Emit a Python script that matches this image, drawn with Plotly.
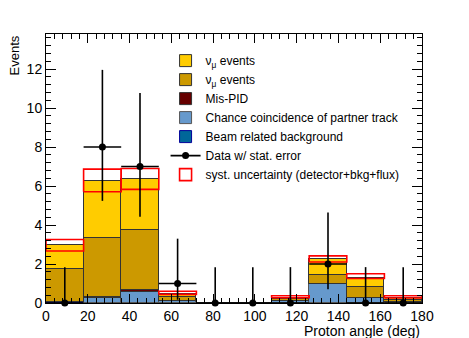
import plotly.graph_objects as go

# binning (proton angle, deg)
bin_edges = [0, 18, 36, 54, 72, 90, 108, 126, 144, 162, 180]

# stacked MC components, per bin
beam_bkg = [0.03, 0, 0, 0, 0, 0, 0, 0, 0, 0]
chance_coinc = [0.0, 0.25, 0.58, 0.12, 0, 0, 0.12, 0.97, 0.24, 0.06]
mis_pid = [0.0, 0.05, 0.08, 0, 0, 0, 0, 0, 0, 0]
numubar_evts = [1.69, 3.02, 3.06, 0.20, 0, 0, 0.08, 0.49, 0.56, 0.08]
numu_evts = [1.24, 2.96, 2.64, 0.14, 0, 0, 0.07, 0.79, 0.50, 0.10]

# systematic band (low / high edge of the box)
syst_lo = [2.67, 5.71, 5.83, 0.44, 0, 0, 0.27, 2.10, 1.26, 0.26]
syst_hi = [3.26, 6.87, 6.90, 0.60, 0, 0, 0.37, 2.42, 1.50, 0.37]

# data with (Poisson) stat errors
data_counts = [0, 8, 7, 1, 0, 0, 0, 2, 0, 0]
data_err_hi = [1.84, 3.96, 3.77, 2.30, 1.84, 1.84, 1.84, 2.64, 1.84, 1.84]
data_err_lo = [0, 2.76, 2.58, 0.83, 0, 0, 0, 1.29, 0, 0]

centers = [(a + b) / 2 for a, b in zip(bin_edges[:-1], bin_edges[1:])]
widths = [b - a for a, b in zip(bin_edges[:-1], bin_edges[1:])]
half_w = [w / 2 for w in widths]

FONT = "Liberation Sans, Arial, sans-serif"

fig = go.Figure()

# stack, bottom to top
stack = [
    ("Beam related background", beam_bkg, "#006699", "#000099", 5),
    ("Chance coincidence of partner track", chance_coinc, "#6699cc", "#555555", 4),
    ("Mis-PID", mis_pid, "#660000", "#333333", 3),
    ("ν<sub>μ</sub> events", numubar_evts, "#cc9900", "#333333", 2),
    ("ν<sub>μ</sub> events", numu_evts, "#ffcc00", "#333333", 1),
]
for name, vals, col, lcol, rank in stack:
    fig.add_trace(go.Bar(
        x=centers, y=vals, width=widths, name=name,
        marker=dict(color=col, line=dict(color=lcol, width=1)),
        legendrank=rank,
    ))

# syst uncertainty boxes
sx, sy = [], []
for i in range(len(centers)):
    if syst_hi[i] <= 0:
        continue
    l, r = bin_edges[i], bin_edges[i + 1]
    sx += [l, r, r, l, l, None]
    sy += [syst_lo[i], syst_lo[i], syst_hi[i], syst_hi[i], syst_lo[i], None]
fig.add_trace(go.Scatter(
    x=sx, y=sy, mode="lines",
    line=dict(color="#ff0000", width=1.6),
    showlegend=False, hoverinfo="skip",
))
# legend entry for the syst boxes (open red box)
fig.add_trace(go.Bar(
    x=[None], y=[None], name="syst. uncertainty (detector+bkg+flux)",
    marker=dict(color="white", line=dict(color="#ff0000", width=1.6)),
    legendrank=7,
))

# data points
fig.add_trace(go.Scatter(
    x=centers, y=data_counts, mode="markers",
    marker=dict(color="black", size=7),
    error_y=dict(type="data", symmetric=False, array=data_err_hi,
                 arrayminus=data_err_lo, color="black", thickness=1.6, width=0),
    error_x=dict(type="data", array=half_w, color="black", thickness=1.6, width=0),
    cliponaxis=False, showlegend=False,
))
# legend entry for data (line + marker, ROOT style)
fig.add_trace(go.Scatter(
    x=[None], y=[None], mode="lines+markers",
    marker=dict(color="black", size=7), line=dict(color="black", width=1.6),
    name="Data w/ stat. error", legendrank=6,
))

axis_common = dict(
    showline=True, linecolor="black", linewidth=1, mirror="allticks",
    ticks="inside", tickcolor="black", showgrid=False, zeroline=False,
    tickfont=dict(family=FONT, size=14, color="black"),
)
fig.update_xaxes(range=[0, 180], dtick=20, tick0=0, ticklen=9,
                 minor=dict(ticks="inside", dtick=4, ticklen=5, tickcolor="black"),
                 **axis_common)
fig.update_yaxes(range=[0, 13.8], dtick=2, tick0=0, ticklen=10,
                 minor=dict(ticks="inside", dtick=0.4, ticklen=5, tickcolor="black"),
                 **axis_common)

# page body adds an 8px offset, so the figure is a bit smaller than the window
fig.update_layout(
    width=461, height=330,
    margin=dict(l=38, r=47, t=26, b=35),
    paper_bgcolor="white", plot_bgcolor="white",
    barmode="stack", bargap=0,
    font=dict(family=FONT, size=12, color="black"),
    legend=dict(x=0.318, y=0.955, xanchor="left", yanchor="top",
                traceorder="normal", bgcolor="rgba(0,0,0,0)",
                font=dict(family=FONT, size=12), tracegroupgap=0),
    annotations=[
        dict(text="Proton angle (deg)", x=1, y=0, xref="paper", yref="paper",
             xanchor="right", yanchor="top", yshift=-18, showarrow=False,
             font=dict(family=FONT, size=14)),
        dict(text="Events", x=0, y=1, xref="paper", yref="paper",
             xanchor="right", yanchor="top", xshift=-23, showarrow=False,
             textangle=-90, font=dict(family=FONT, size=13)),
    ],
)

fig.write_html("out.html")
